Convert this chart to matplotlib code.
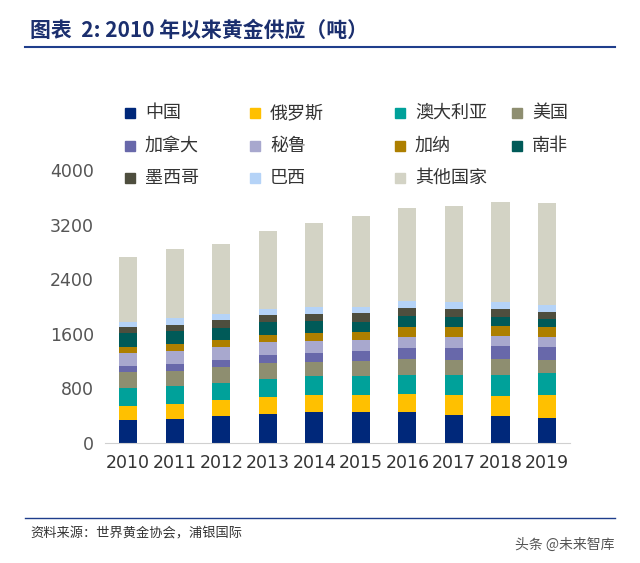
import matplotlib
matplotlib.use("Agg")
import matplotlib.pyplot as plt
import numpy as np

plt.rcParams['font.family'] = ['Noto Sans CJK SC', 'DejaVu Sans']

years = ["2010", "2011", "2012", "2013", "2014", "2015", "2016", "2017", "2018", "2019"]
series_names = ["中国", "俄罗斯", "澳大利亚", "美国", "加拿大", "秘鲁", "加纳", "南非", "墨西哥", "巴西", "其他国家"]
china = [337, 356, 395, 425, 454, 454, 454, 410, 390, 366]
russia = [210, 215, 239, 254, 249, 249, 264, 288, 293, 332]
australia = [254, 259, 249, 259, 273, 273, 278, 298, 317, 327]
usa = [234, 229, 234, 239, 215, 229, 239, 224, 234, 195]
canada = [88, 98, 102, 117, 132, 146, 151, 171, 181, 181]
peru = [195, 190, 195, 190, 176, 161, 171, 166, 151, 156]
ghana = [93, 102, 102, 102, 107, 112, 137, 146, 156, 142]
south_africa = [200, 195, 176, 181, 176, 156, 161, 142, 132, 112]
mexico = [83, 88, 117, 102, 112, 127, 122, 122, 112, 112]
brazil = [73, 93, 78, 93, 93, 93, 102, 102, 102, 102]
others = [961, 1020, 1035, 1152, 1235, 1322, 1362, 1405, 1464, 1488]
yticks = [0, 800, 1600, 2400, 3200, 4000]

series = [china, russia, australia, usa, canada, peru, ghana, south_africa, mexico, brazil, others]
colors = ["#00287A", "#FFC000", "#00A19A", "#8E8E70", "#6868AA", "#A8A8CE",
          "#AD7F00", "#005A58", "#4E4E3E", "#B5D3F7", "#D3D3C5"]

fig = plt.figure(figsize=(6.4, 5.63), dpi=100)
ax = fig.add_axes([0.164, 0.213, 0.727, 0.485])

x = np.arange(len(years))
bottom = np.zeros(len(years))
handles = []
for vals, c, name in zip(series, colors, series_names):
    h = ax.bar(x, vals, 0.39, bottom=bottom, color=c, label=name)
    handles.append(h)
    bottom += np.array(vals)

ax.set_xlim(-0.5, 9.5)
ax.set_ylim(0, 4000)
ax.set_yticks(yticks)
ax.set_xticks(x)
ax.set_xticklabels(years, fontsize=12.5, color="#333333", family="DejaVu Sans")
ax.set_yticklabels([str(v) for v in yticks], fontsize=12.5, color="#555555", family="DejaVu Sans")
ax.tick_params(length=0, pad=8)
for s in ["top", "right", "left"]:
    ax.spines[s].set_visible(False)
ax.spines["bottom"].set_color("#D0D0D0")

# legend, row by row (4 columns)
cols_x = [125, 250, 395, 512]
rows_y = [113, 146, 178]
for i, (name, c) in enumerate(zip(series_names, colors)):
    r, k = divmod(i, 4)
    px, py = cols_x[k], rows_y[r]
    fig.patches.append(plt.Rectangle((px / 640, 1 - (py + 5) / 563), 10 / 640, 10 / 563,
                                     transform=fig.transFigure, color=c))
    fig.text((px + 20) / 640, 1 - py / 563, name, fontsize=13, va="center", color="#333333")

fig.text(30 / 640, 1 - 30 / 563, "图表  2: 2010 年以来黄金供应（吨）", fontsize=15,
         fontweight="bold", color="#1B2F6E", va="center")
fig.add_artist(plt.Line2D([25 / 640, 615 / 640], [1 - 47 / 563] * 2, color="#1F3E8C", lw=1.5))
fig.add_artist(plt.Line2D([25 / 640, 615 / 640], [1 - 518 / 563] * 2, color="#1F3E8C", lw=1))
fig.text(30 / 640, 1 - 534 / 563, "资料来源：世界黄金协会，浦银国际", fontsize=9.5,
         color="#333333", va="center")
fig.text(515 / 640, 1 - 545 / 563, "头条 @未来智库", fontsize=10, color="#555555", va="center")

fig.savefig("out.png", dpi=100)
